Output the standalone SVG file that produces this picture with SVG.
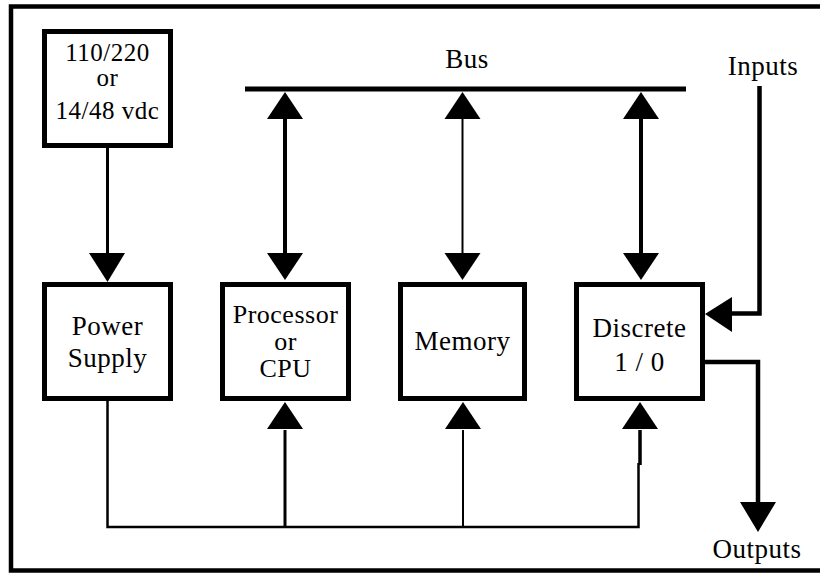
<svg xmlns="http://www.w3.org/2000/svg" width="820" height="575" viewBox="0 0 820 575">
<style>
.box{fill:#fff;stroke:#000;stroke-width:5}
.t{font-family:"Liberation Serif","Times New Roman",serif;font-size:27px;letter-spacing:0.5px;fill:#000;text-anchor:middle}
.s{font-size:25px}
.m{font-size:26px}
.l{fill:none;stroke:#000}
.ah{fill:#000}
</style>
<rect x="0" y="0" width="820" height="575" fill="#fff"/>
<rect x="11" y="6.5" width="812" height="564" fill="none" stroke="#000" stroke-width="4.5"/>
<g id="connectors">
  <line class="l" x1="245" y1="89" x2="686" y2="89" stroke-width="5"/>
  <line class="l" x1="107.5" y1="148" x2="107.5" y2="256" stroke-width="3"/>
  <polygon class="ah" points="89,253 125,253 107.5,282"/>
  <line class="l" x1="285" y1="115" x2="285" y2="256" stroke-width="4"/>
  <polygon class="ah" points="285,92 267,119 303,119"/>
  <polygon class="ah" points="267,253 303,253 285,280"/>
  <line class="l" x1="462.5" y1="115" x2="462.5" y2="256" stroke-width="2"/>
  <polygon class="ah" points="462.5,92 444.5,119 480.5,119"/>
  <polygon class="ah" points="444.5,253 480.5,253 462.5,280"/>
  <line class="l" x1="641" y1="115" x2="641" y2="256" stroke-width="4"/>
  <polygon class="ah" points="641,92 623,119 659,119"/>
  <polygon class="ah" points="623,253 659,253 641,280"/>
  <polyline class="l" points="107.5,401 107.5,527 638.5,527 638.5,463" stroke-width="2.5"/>
  <line class="l" x1="640" y1="430" x2="640" y2="465" stroke-width="3.5"/>
  <polygon class="ah" points="640,402 622,429 658,429"/>
  <line class="l" x1="285" y1="430" x2="285" y2="527" stroke-width="3"/>
  <polygon class="ah" points="285,402 267,429 303,429"/>
  <line class="l" x1="463" y1="430" x2="463" y2="527" stroke-width="2"/>
  <polygon class="ah" points="463,402 445,429 481,429"/>
  <polyline class="l" points="759.5,86 759.5,313.5 730,313.5" stroke-width="4.5"/>
  <polygon class="ah" points="705,314 732,297 732,332"/>
  <polyline class="l" points="705,362 758,362 758,505" stroke-width="4.5"/>
  <polygon class="ah" points="740,502 776,502 758,532"/>
</g>
<text class="t" x="467" y="68" letter-spacing="3">Bus</text>
<text class="t" x="763" y="75">Inputs</text>
<text class="t" x="757" y="558">Outputs</text>
<g id="source">
  <rect class="box" x="44.5" y="31.5" width="126" height="114"/>
  <text class="t s" x="107.5" y="61">110/220</text>
  <text class="t s" x="107.5" y="86">or</text>
  <text class="t s" x="107.5" y="119">14/48 vdc</text>
</g>
<g id="power">
  <rect class="box" x="44.5" y="284.5" width="126" height="114"/>
  <text class="t" x="107.5" y="335">Power</text>
  <text class="t" x="107.5" y="367">Supply</text>
</g>
<g id="cpu">
  <rect class="box" x="222.5" y="284.5" width="126" height="114"/>
  <text class="t m" x="285.5" y="323">Processor</text>
  <text class="t m" x="285.5" y="350">or</text>
  <text class="t m" x="285.5" y="377">CPU</text>
</g>
<g id="memory">
  <rect class="box" x="400.5" y="284.5" width="124" height="114"/>
  <text class="t" x="462.5" y="350">Memory</text>
</g>
<g id="discrete">
  <rect class="box" x="576.5" y="284.5" width="126" height="114"/>
  <text class="t" x="639.5" y="337">Discrete</text>
  <text class="t" x="639.5" y="371">1 / 0</text>
</g>
</svg>
